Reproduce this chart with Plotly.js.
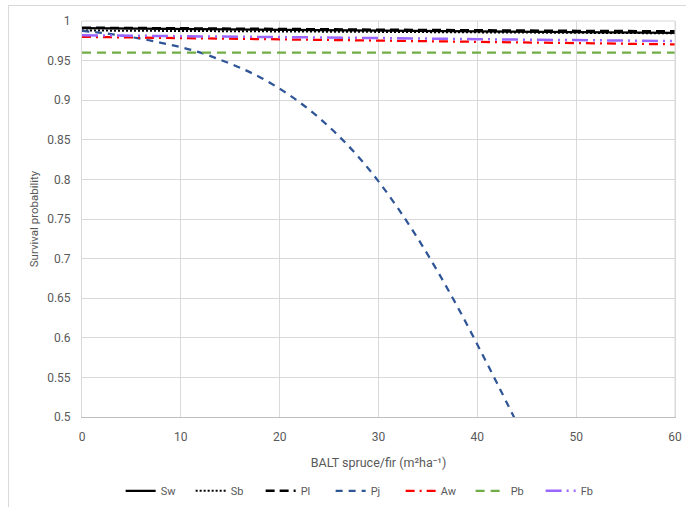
<!DOCTYPE html>
<html>
<head>
<meta charset="utf-8">
<script src="https://cdn.plot.ly/plotly-3.0.1.min.js"></script>
<style>
html,body{margin:0;padding:0;background:#fff;}
#frame{position:absolute;left:8px;top:5px;width:690px;height:520px;border:1px solid #d9d9d9;box-sizing:border-box;}
#chart{position:absolute;left:0;top:0;width:686px;height:507px;}
</style>
</head>
<body>
<div id="frame"></div>
<div id="chart"></div>
<script>
// BALT spruce/fir (m2/ha)
const baltFlat = [0, 10, 20, 30, 40, 50, 60];
const sw = [0.991, 0.990, 0.989, 0.988, 0.987, 0.986, 0.985];
const sb = [0.988, 0.9875, 0.987, 0.986, 0.9855, 0.985, 0.9845];
const pl = [0.9915, 0.991, 0.990, 0.989, 0.988, 0.9875, 0.987];
const aw = [0.980, 0.9785, 0.977, 0.9755, 0.974, 0.972, 0.9705];
const pb = [0.960, 0.960, 0.960, 0.960, 0.960, 0.960, 0.960];
const fb = [0.982, 0.981, 0.980, 0.9785, 0.977, 0.976, 0.9747];

const baltPj = [0, 2, 4, 6, 8, 10, 12, 14, 16, 18, 20, 22, 24, 26, 28, 30, 32, 34, 36, 38, 40, 42, 44];
const pj = [0.9875, 0.985, 0.9815, 0.9775, 0.9725, 0.967, 0.960, 0.951, 0.941, 0.929, 0.9145, 0.8975, 0.8775, 0.8545, 0.828, 0.7975, 0.763, 0.725, 0.6835, 0.639, 0.5915, 0.5425, 0.4925];

const xTicks = [0, 10, 20, 30, 40, 50, 60];
const yTicks = [0.5, 0.55, 0.6, 0.65, 0.7, 0.75, 0.8, 0.85, 0.9, 0.95, 1];
const yTickText = ['0.5', '0.55', '0.6', '0.65', '0.7', '0.75', '0.8', '0.85', '0.9', '0.95', '1'];

const traces = [
  {name: 'Sw', x: baltFlat, y: sw, line: {color: '#000000', width: 2.25, dash: 'solid'}},
  {name: 'Sb', x: baltFlat, y: sb, line: {color: '#000000', width: 2, dash: '2px,2px'}},
  {name: 'Pl', x: baltFlat, y: pl, line: {color: '#000000', width: 2.5, dash: '9px,5px'}},
  {name: 'Pj', x: baltPj, y: pj, line: {color: '#2F5597', width: 2.25, dash: '7px,6px', shape: 'spline'}},
  {name: 'Aw', x: baltFlat, y: aw, line: {color: '#FF0000', width: 2.25, dash: '9px,5px,2px,5px'}},
  {name: 'Pb', x: baltFlat, y: pb, line: {color: '#70AD47', width: 2.25, dash: '9px,6px'}},
  {name: 'Fb', x: baltFlat, y: fb, line: {color: '#9966FF', width: 2.5, dash: '16px,5px,2px,5px,2px,5px'}}
].map(t => Object.assign({type: 'scatter', mode: 'lines', hoverinfo: 'skip'}, t));

const fam = 'Roboto, "Open Sans", sans-serif';
const grey = '#595959';

const layout = {
  width: 686, height: 507,
  margin: {l: 82, r: 11, t: 21, b: 90},
  paper_bgcolor: 'rgba(0,0,0,0)',
  plot_bgcolor: 'rgba(0,0,0,0)',
  font: {family: fam, size: 12, color: grey},
  showlegend: true,
  legend: {orientation: 'h', xref: 'container', yref: 'container',
           x: 0.533, xanchor: 'center', y: 0.032, yanchor: 'middle',
           entrywidth: 25, entrywidthmode: 'pixels',
           font: {family: fam, size: 11, color: grey}, tracegroupgap: 0},
  xaxis: {
    range: [0, 60], tickvals: xTicks, ticktext: xTicks.map(String),
    showgrid: true, gridcolor: '#d9d9d9', gridwidth: 1, zeroline: false,
    showline: true, linecolor: '#bfbfbf', linewidth: 1, mirror: false,
    ticks: 'outside', ticklen: 9, tickcolor: 'rgba(0,0,0,0)',
    tickfont: {family: fam, size: 12, color: grey},
    title: {text: 'BALT spruce/fir (m²ha⁻¹)', font: {family: fam, size: 12.5, color: grey}, standoff: 14},
    automargin: false, fixedrange: true
  },
  yaxis: {
    range: [0.5, 1], tickvals: yTicks, ticktext: yTickText,
    showgrid: true, gridcolor: '#d9d9d9', gridwidth: 1, zeroline: false,
    showline: true, linecolor: '#d9d9d9', linewidth: 1, mirror: true,
    ticks: 'outside', ticklen: 8, tickcolor: 'rgba(0,0,0,0)',
    tickfont: {family: fam, size: 12, color: grey},
    title: {text: 'Survival probability', font: {family: fam, size: 11.5, color: grey}, standoff: 6},
    automargin: false, fixedrange: true
  },
  shapes: [
    {type: 'line', xref: 'paper', yref: 'paper', x0: 1, x1: 1, y0: 0, y1: 1, line: {color: '#d9d9d9', width: 1}},
    {type: 'line', xref: 'paper', yref: 'paper', x0: 0, x1: 1, y0: 1, y1: 1, line: {color: '#d9d9d9', width: 1}}
  ]
};

Plotly.newPlot('chart', traces, layout, {displayModeBar: false, staticPlot: true});
</script>
</body>
</html>
